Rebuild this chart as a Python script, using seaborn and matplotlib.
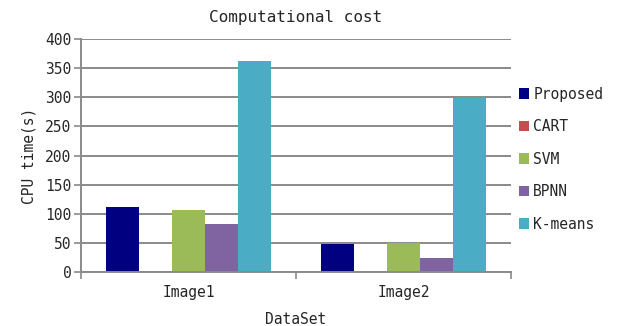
import matplotlib
matplotlib.use("Agg")
import matplotlib.pyplot as plt
import seaborn as sns
import pandas as pd
from matplotlib.patches import Patch

datasets = ["Image1", "Image2"]
methods = ["Proposed", "CART", "SVM", "BPNN", "K-means"]
proposed = [111, 48]
cart = [0, 0]
svm = [107, 49]
bpnn = [82, 24]
kmeans = [363, 299]
colors = ["#000080", "#C0504D", "#9BBB59", "#8064A2", "#4BACC6"]

rows = []
for m, vals in zip(methods, [proposed, cart, svm, bpnn, kmeans]):
    for d, v in zip(datasets, vals):
        rows.append({"DataSet": d, "Method": m, "CPU": v})
df = pd.DataFrame(rows)

sns.set_style("white")
plt.rcParams["font.family"] = ["DejaVu Sans Mono"]

fig = plt.figure(figsize=(6.21, 3.26), dpi=100)
ax = fig.add_axes([0.1304, 0.1656, 0.6925, 0.7148])

sns.barplot(data=df, x="DataSet", y="CPU", hue="Method", hue_order=methods,
            palette=colors, width=0.77, saturation=1, ax=ax, legend=False,
            linewidth=0)

ax.set_ylim(0, 400)
ax.set_xlim(-0.5, 1.5)
ax.set_yticks(range(0, 401, 50))
ax.yaxis.grid(True, color="#8a8a8a", linewidth=1.4)
ax.set_axisbelow(True)
for s in ["top", "right"]:
    ax.spines[s].set_visible(False)
for s in ["left", "bottom"]:
    ax.spines[s].set_color("#8a8a8a")
    ax.spines[s].set_linewidth(1.4)

ax.tick_params(axis="y", which="major", length=5, color="#8a8a8a", width=1.2,
               labelsize=10.5, pad=2, left=True)
ax.set_xticks([0, 1])
ax.set_xticklabels(datasets)
ax.tick_params(axis="x", which="major", length=0, labelsize=10.5, pad=9)
ax.set_xticks([-0.5, 0.5, 1.5], minor=True)
ax.tick_params(axis="x", which="minor", length=5, color="#8a8a8a", width=1.2,
               bottom=True)

ax.set_xlabel("DataSet", fontsize=10.5, labelpad=9)
ax.set_ylabel("CPU time(s)", fontsize=10.5, labelpad=6)
ax.set_title("Computational cost", fontsize=11.5, pad=12)

handles = [Patch(facecolor=c, edgecolor="none") for c in colors]
fig.legend(handles, methods, loc="center left", bbox_to_anchor=(0.826, 0.512),
           frameon=False, fontsize=10.5, handlelength=0.7, handleheight=0.7,
           handletextpad=0.3, labelspacing=1.2, borderaxespad=0)

fig.savefig("out.png", dpi=100)
